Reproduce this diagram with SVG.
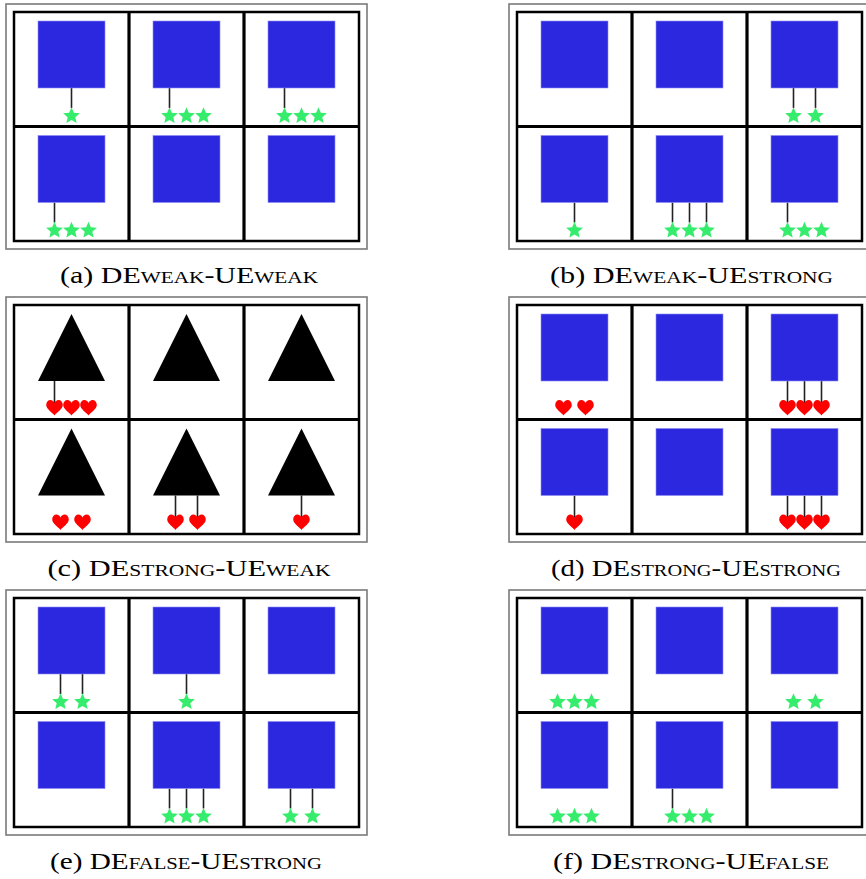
<svg xmlns="http://www.w3.org/2000/svg" xmlns:xlink="http://www.w3.org/1999/xlink" width="866" height="879" viewBox="0 0 866 879">
<style>
.outer{fill:#fff;stroke:#7a7a7a;stroke-width:1.6}
.inner{fill:#fff;stroke:#000;stroke-width:2.5}
.div{stroke:#000;stroke-width:3.2}
.sq{fill:#2b28e0;stroke:#8e8cf0;stroke-width:0.6}
.tri{fill:#000}
.star{fill:#36ec6c}
.heart{fill:#ff0000}
.conn line{stroke:#222;stroke-width:1.6}
.cap{font-family:"Liberation Serif","DejaVu Serif",serif;font-size:24px;fill:#000;font-weight:normal}
.sc{font-variant:small-caps}
</style>
<defs>
<rect id="sq" class="sq" x="24" y="9" width="67" height="67"/>
<polygon id="tri" class="tri" points="57.5,9 91,76 24,76"/>
<polygon id="star" class="star" points="0,-8.8 2.35,-3.24 8.37,-2.72 3.8,1.24 5.17,7.12 0,4.0 -5.17,7.12 -3.8,1.24 -8.37,-2.72 -2.35,-3.24"/>
<path id="heart" class="heart" d="M0,7.5 C-2,4.5 -8.3,1 -8.3,-3 C-8.3,-6 -6.4,-8 -4.1,-8 C-2.2,-8 -0.6,-6.6 0,-5 C0.6,-6.6 2.2,-8 4.1,-8 C6.4,-8 8.3,-6 8.3,-3 C8.3,1 2,4.5 0,7.5 Z"/>
</defs>

<!-- frames -->
<g id="frames">
<rect class="outer" x="6" y="4" width="361" height="245"/>
<rect class="inner" x="14" y="12" width="345" height="229"/>
<rect class="outer" x="509" y="4" width="361" height="245"/>
<rect class="inner" x="517" y="12" width="345" height="229"/>
<rect class="outer" x="6" y="297" width="361" height="245"/>
<rect class="inner" x="14" y="305" width="345" height="229"/>
<rect class="outer" x="509" y="297" width="361" height="245"/>
<rect class="inner" x="517" y="305" width="345" height="229"/>
<rect class="outer" x="6" y="590" width="361" height="245"/>
<rect class="inner" x="14" y="598" width="345" height="229"/>
<rect class="outer" x="509" y="590" width="361" height="245"/>
<rect class="inner" x="517" y="598" width="345" height="229"/>
<g class="div">
<line x1="129" y1="12" x2="129" y2="241"/><line x1="244" y1="12" x2="244" y2="241"/><line x1="14" y1="126.5" x2="359" y2="126.5"/>
<line x1="632" y1="12" x2="632" y2="241"/><line x1="747" y1="12" x2="747" y2="241"/><line x1="517" y1="126.5" x2="862" y2="126.5"/>
<line x1="129" y1="305" x2="129" y2="534"/><line x1="244" y1="305" x2="244" y2="534"/><line x1="14" y1="419.5" x2="359" y2="419.5"/>
<line x1="632" y1="305" x2="632" y2="534"/><line x1="747" y1="305" x2="747" y2="534"/><line x1="517" y1="419.5" x2="862" y2="419.5"/>
<line x1="129" y1="598" x2="129" y2="827"/><line x1="244" y1="598" x2="244" y2="827"/><line x1="14" y1="712.5" x2="359" y2="712.5"/>
<line x1="632" y1="598" x2="632" y2="827"/><line x1="747" y1="598" x2="747" y2="827"/><line x1="517" y1="712.5" x2="862" y2="712.5"/>
</g>
</g>

<!-- connectors -->
<g id="connectors" class="conn">
<line x1="71.5" y1="88" x2="71.5" y2="108"/>
<line x1="169.5" y1="88" x2="169.5" y2="108"/>
<line x1="284.5" y1="88" x2="284.5" y2="108"/>
<line x1="54.5" y1="202.5" x2="54.5" y2="222.5"/>

<line x1="793.5" y1="88" x2="793.5" y2="108"/>
<line x1="815.5" y1="88" x2="815.5" y2="108"/>
<line x1="574.5" y1="202.5" x2="574.5" y2="222.5"/>
<line x1="672.5" y1="202.5" x2="672.5" y2="222.5"/>
<line x1="689.5" y1="202.5" x2="689.5" y2="222.5"/>
<line x1="706.5" y1="202.5" x2="706.5" y2="222.5"/>
<line x1="787.5" y1="202.5" x2="787.5" y2="222.5"/>

<line x1="54.5" y1="381" x2="54.5" y2="403"/>
<line x1="175.5" y1="495.5" x2="175.5" y2="517.5"/>
<line x1="197.5" y1="495.5" x2="197.5" y2="517.5"/>
<line x1="301.5" y1="495.5" x2="301.5" y2="517.5"/>

<line x1="787.5" y1="381" x2="787.5" y2="403"/>
<line x1="804.5" y1="381" x2="804.5" y2="403"/>
<line x1="821.5" y1="381" x2="821.5" y2="403"/>
<line x1="574.5" y1="495.5" x2="574.5" y2="517.5"/>
<line x1="787.5" y1="495.5" x2="787.5" y2="517.5"/>
<line x1="804.5" y1="495.5" x2="804.5" y2="517.5"/>
<line x1="821.5" y1="495.5" x2="821.5" y2="517.5"/>

<line x1="60.5" y1="674" x2="60.5" y2="694"/>
<line x1="82.5" y1="674" x2="82.5" y2="694"/>
<line x1="186.5" y1="674" x2="186.5" y2="694"/>
<line x1="169.5" y1="788.5" x2="169.5" y2="808.5"/>
<line x1="186.5" y1="788.5" x2="186.5" y2="808.5"/>
<line x1="203.5" y1="788.5" x2="203.5" y2="808.5"/>
<line x1="290.5" y1="788.5" x2="290.5" y2="808.5"/>
<line x1="312.5" y1="788.5" x2="312.5" y2="808.5"/>

<line x1="672.5" y1="788.5" x2="672.5" y2="808.5"/>
</g>

<!-- panel a -->
<g id="panel-a">
<g id="a-r1c1" transform="translate(14,12)"><use href="#sq"/><use href="#star" x="57.5" y="104"/></g>
<g id="a-r1c2" transform="translate(129,12)"><use href="#sq"/><use href="#star" x="40.5" y="104"/><use href="#star" x="57.5" y="104"/><use href="#star" x="74.5" y="104"/></g>
<g id="a-r1c3" transform="translate(244,12)"><use href="#sq"/><use href="#star" x="40.5" y="104"/><use href="#star" x="57.5" y="104"/><use href="#star" x="74.5" y="104"/></g>
<g id="a-r2c1" transform="translate(14,126.5)"><use href="#sq"/><use href="#star" x="40.5" y="104"/><use href="#star" x="57.5" y="104"/><use href="#star" x="74.5" y="104"/></g>
<g id="a-r2c2" transform="translate(129,126.5)"><use href="#sq"/></g>
<g id="a-r2c3" transform="translate(244,126.5)"><use href="#sq"/></g>
</g>

<!-- panel b -->
<g id="panel-b">
<g id="b-r1c1" transform="translate(517,12)"><use href="#sq"/></g>
<g id="b-r1c2" transform="translate(632,12)"><use href="#sq"/></g>
<g id="b-r1c3" transform="translate(747,12)"><use href="#sq"/><use href="#star" x="46.5" y="104"/><use href="#star" x="68.5" y="104"/></g>
<g id="b-r2c1" transform="translate(517,126.5)"><use href="#sq"/><use href="#star" x="57.5" y="104"/></g>
<g id="b-r2c2" transform="translate(632,126.5)"><use href="#sq"/><use href="#star" x="40.5" y="104"/><use href="#star" x="57.5" y="104"/><use href="#star" x="74.5" y="104"/></g>
<g id="b-r2c3" transform="translate(747,126.5)"><use href="#sq"/><use href="#star" x="40.5" y="104"/><use href="#star" x="57.5" y="104"/><use href="#star" x="74.5" y="104"/></g>
</g>

<!-- panel c -->
<g id="panel-c">
<g id="c-r1c1" transform="translate(14,305)"><use href="#tri"/><use href="#heart" x="40.5" y="103"/><use href="#heart" x="57.5" y="103"/><use href="#heart" x="74.5" y="103"/></g>
<g id="c-r1c2" transform="translate(129,305)"><use href="#tri"/></g>
<g id="c-r1c3" transform="translate(244,305)"><use href="#tri"/></g>
<g id="c-r2c1" transform="translate(14,419.5)"><use href="#tri"/><use href="#heart" x="46.5" y="103"/><use href="#heart" x="68.5" y="103"/></g>
<g id="c-r2c2" transform="translate(129,419.5)"><use href="#tri"/><use href="#heart" x="46.5" y="103"/><use href="#heart" x="68.5" y="103"/></g>
<g id="c-r2c3" transform="translate(244,419.5)"><use href="#tri"/><use href="#heart" x="57.5" y="103"/></g>
</g>

<!-- panel d -->
<g id="panel-d">
<g id="d-r1c1" transform="translate(517,305)"><use href="#sq"/><use href="#heart" x="46.5" y="103"/><use href="#heart" x="68.5" y="103"/></g>
<g id="d-r1c2" transform="translate(632,305)"><use href="#sq"/></g>
<g id="d-r1c3" transform="translate(747,305)"><use href="#sq"/><use href="#heart" x="40.5" y="103"/><use href="#heart" x="57.5" y="103"/><use href="#heart" x="74.5" y="103"/></g>
<g id="d-r2c1" transform="translate(517,419.5)"><use href="#sq"/><use href="#heart" x="57.5" y="103"/></g>
<g id="d-r2c2" transform="translate(632,419.5)"><use href="#sq"/></g>
<g id="d-r2c3" transform="translate(747,419.5)"><use href="#sq"/><use href="#heart" x="40.5" y="103"/><use href="#heart" x="57.5" y="103"/><use href="#heart" x="74.5" y="103"/></g>
</g>

<!-- panel e -->
<g id="panel-e">
<g id="e-r1c1" transform="translate(14,598)"><use href="#sq"/><use href="#star" x="46.5" y="104"/><use href="#star" x="68.5" y="104"/></g>
<g id="e-r1c2" transform="translate(129,598)"><use href="#sq"/><use href="#star" x="57.5" y="104"/></g>
<g id="e-r1c3" transform="translate(244,598)"><use href="#sq"/></g>
<g id="e-r2c1" transform="translate(14,712.5)"><use href="#sq"/></g>
<g id="e-r2c2" transform="translate(129,712.5)"><use href="#sq"/><use href="#star" x="40.5" y="104"/><use href="#star" x="57.5" y="104"/><use href="#star" x="74.5" y="104"/></g>
<g id="e-r2c3" transform="translate(244,712.5)"><use href="#sq"/><use href="#star" x="46.5" y="104"/><use href="#star" x="68.5" y="104"/></g>
</g>

<!-- panel f -->
<g id="panel-f">
<g id="f-r1c1" transform="translate(517,598)"><use href="#sq"/><use href="#star" x="40.5" y="104"/><use href="#star" x="57.5" y="104"/><use href="#star" x="74.5" y="104"/></g>
<g id="f-r1c2" transform="translate(632,598)"><use href="#sq"/></g>
<g id="f-r1c3" transform="translate(747,598)"><use href="#sq"/><use href="#star" x="46.5" y="104"/><use href="#star" x="68.5" y="104"/></g>
<g id="f-r2c1" transform="translate(517,712.5)"><use href="#sq"/><use href="#star" x="40.5" y="104"/><use href="#star" x="57.5" y="104"/><use href="#star" x="74.5" y="104"/></g>
<g id="f-r2c2" transform="translate(632,712.5)"><use href="#sq"/><use href="#star" x="40.5" y="104"/><use href="#star" x="57.5" y="104"/><use href="#star" x="74.5" y="104"/></g>
<g id="f-r2c3" transform="translate(747,712.5)"><use href="#sq"/></g>
</g>

<!-- captions -->
<g id="captions" class="cap">
<text x="189" y="283" text-anchor="middle" textLength="258" lengthAdjust="spacingAndGlyphs">(a) DE<tspan class="sc">weak</tspan>-UE<tspan class="sc">weak</tspan></text>
<text x="691.5" y="283" text-anchor="middle" textLength="283" lengthAdjust="spacingAndGlyphs">(b) DE<tspan class="sc">weak</tspan>-UE<tspan class="sc">strong</tspan></text>
<text x="189" y="576" text-anchor="middle" textLength="283" lengthAdjust="spacingAndGlyphs">(c) DE<tspan class="sc">strong</tspan>-UE<tspan class="sc">weak</tspan></text>
<text x="696" y="576" text-anchor="middle" textLength="290" lengthAdjust="spacingAndGlyphs">(d) DE<tspan class="sc">strong</tspan>-UE<tspan class="sc">strong</tspan></text>
<text x="186" y="869" text-anchor="middle" textLength="272" lengthAdjust="spacingAndGlyphs">(e) DE<tspan class="sc">false</tspan>-UE<tspan class="sc">strong</tspan></text>
<text x="691" y="869" text-anchor="middle" textLength="276" lengthAdjust="spacingAndGlyphs">(f) DE<tspan class="sc">strong</tspan>-UE<tspan class="sc">false</tspan></text>
</g>
</svg>
